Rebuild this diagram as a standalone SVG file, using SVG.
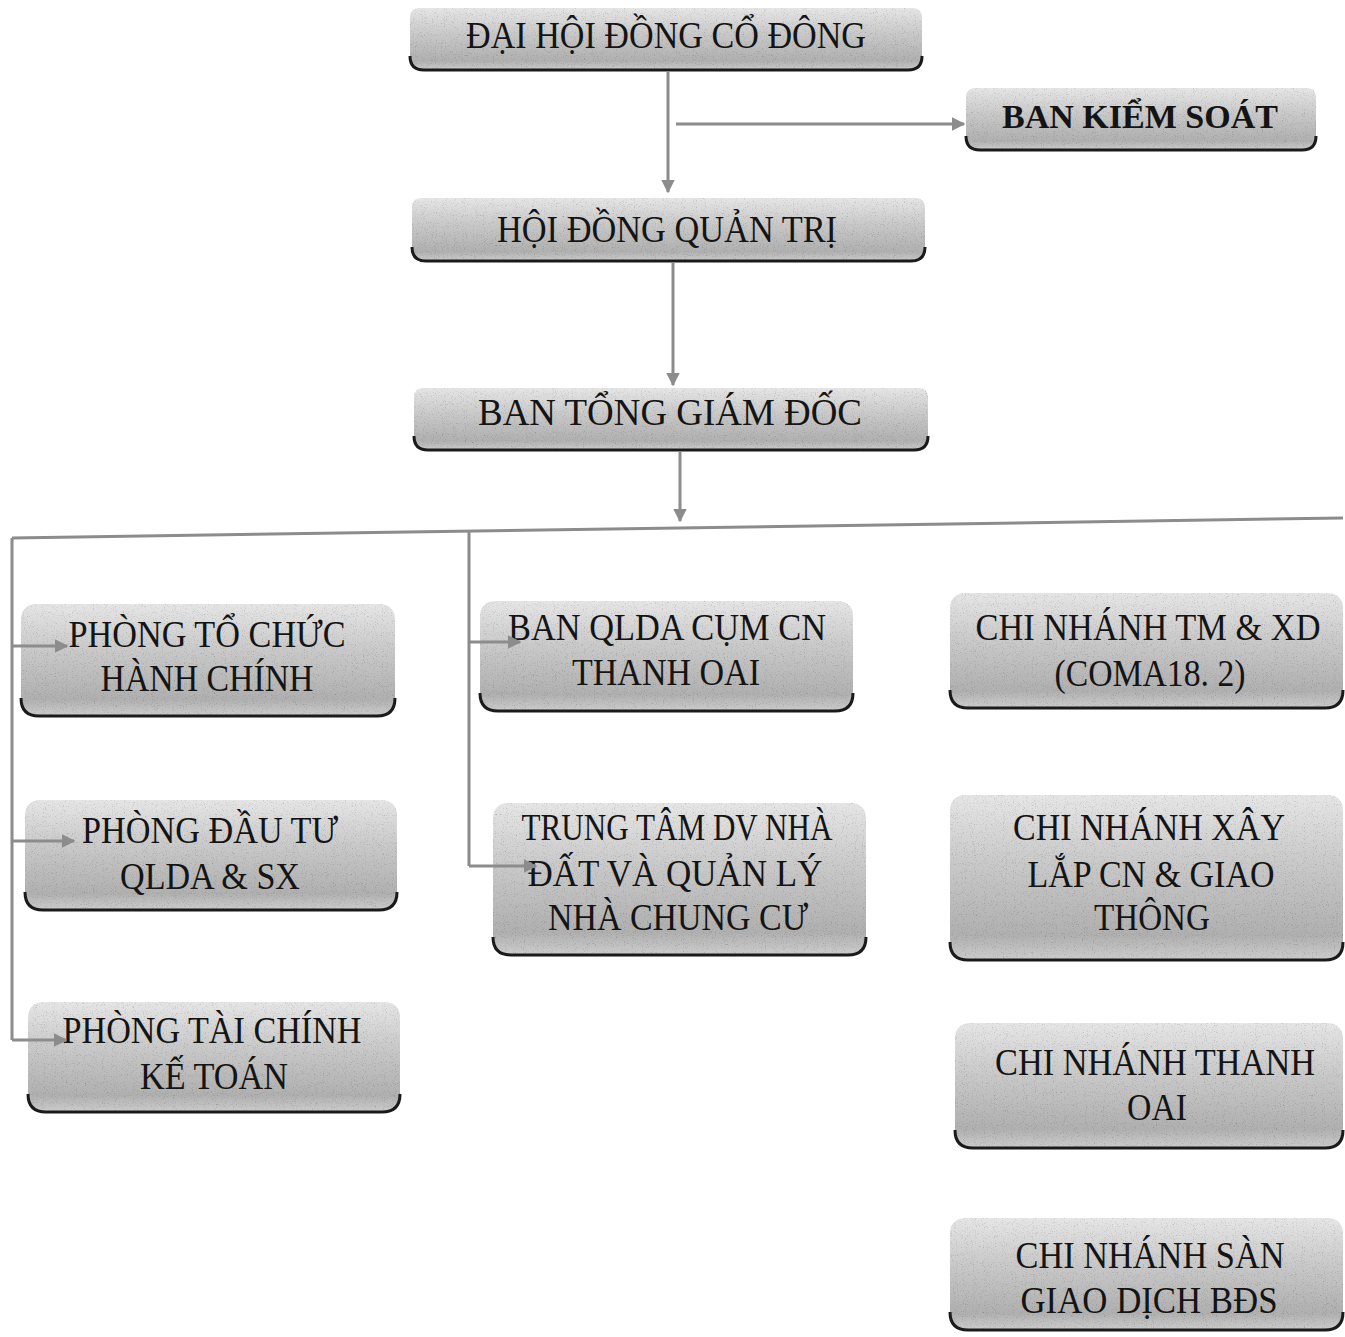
<svg xmlns="http://www.w3.org/2000/svg" width="1345" height="1337" viewBox="0 0 1345 1337">
<style>
.bg{fill:url(#g);filter:url(#grain)}
.sh{fill:none;stroke:#1a1a1a;stroke-width:3}
text{font-family:'Liberation Serif','DejaVu Serif',serif;font-size:37px;fill:#141414;text-anchor:middle}
.b{font-weight:bold;font-size:34px}
.c{fill:none;stroke:#8c8c8c;stroke-width:3}
</style>
<defs>
<linearGradient id="g" x1="0" y1="0" x2="0" y2="1">
<stop offset="0" stop-color="#e6e6e6"/>
<stop offset="0.4" stop-color="#cacaca"/>
<stop offset="0.85" stop-color="#b0b0b0"/>
<stop offset="1" stop-color="#cdcdcd"/>
</linearGradient>
<filter id="grain" x="0" y="0" width="100%" height="100%">
<feTurbulence type="fractalNoise" baseFrequency="0.9" numOctaves="2" seed="7" result="n"/>
<feColorMatrix in="n" type="saturate" values="0" result="gn"/>
<feComponentTransfer in="gn" result="gn2">
<feFuncR type="linear" slope="1.4" intercept="0.35"/>
<feFuncG type="linear" slope="1.4" intercept="0.35"/>
<feFuncB type="linear" slope="1.4" intercept="0.35"/>
<feFuncA type="linear" slope="0" intercept="1"/>
</feComponentTransfer>
<feBlend in="SourceGraphic" in2="gn2" mode="multiply" result="bl"/>
<feComposite in="bl" in2="SourceGraphic" operator="in"/>
</filter>
<marker id="ah" viewBox="0 0 10 10" refX="9" refY="5" markerWidth="4.5" markerHeight="4.5" orient="auto" markerUnits="strokeWidth">
<path d="M0,0 L10,5 L0,10 z" fill="#8c8c8c"/>
</marker>
</defs>

<g id="dai-hoi-dong-co-dong">
<rect class="bg" x="410" y="8" width="512" height="62" rx="8"/>
<path class="sh" d="M410,56 Q410,70 424,70 H908 Q922,70 922,56"/>
<text x="666" y="48" textLength="400" lengthAdjust="spacingAndGlyphs" font-family="Liberation Serif, serif">ĐẠI HỘI ĐỒNG CỔ ĐÔNG</text>
</g>

<g id="ban-kiem-soat">
<rect class="bg" x="966" y="88" width="350" height="62" rx="8"/>
<path class="sh" d="M966,136 Q966,150 980,150 H1302 Q1316,150 1316,136"/>
<text class="b" x="1140" y="128" textLength="276" lengthAdjust="spacingAndGlyphs" font-family="Liberation Serif, serif">BAN KIỂM SOÁT</text>
</g>

<g id="hoi-dong-quan-tri">
<rect class="bg" x="412" y="198" width="513" height="63" rx="8"/>
<path class="sh" d="M412,247 Q412,261 426,261 H911 Q925,261 925,247"/>
<text x="667" y="242" textLength="340" lengthAdjust="spacingAndGlyphs" font-family="Liberation Serif, serif">HỘI ĐỒNG QUẢN TRỊ</text>
</g>

<g id="ban-tong-giam-doc">
<rect class="bg" x="414" y="388" width="514" height="62" rx="8"/>
<path class="sh" d="M414,436 Q414,450 428,450 H914 Q928,450 928,436"/>
<text x="670" y="425" textLength="384" lengthAdjust="spacingAndGlyphs" font-family="Liberation Serif, serif">BAN TỔNG GIÁM ĐỐC</text>
</g>

<g id="phong-to-chuc-hanh-chinh">
<rect class="bg" x="21" y="604" width="374" height="112" rx="14"/>
<path class="sh" d="M21,698 Q21,716 39,716 H377 Q395,716 395,698"/>
<text x="207" y="647" textLength="277" lengthAdjust="spacingAndGlyphs" font-family="Liberation Serif, serif">PHÒNG TỔ CHỨC</text>
<text x="207" y="691" textLength="213" lengthAdjust="spacingAndGlyphs" font-family="Liberation Serif, serif">HÀNH CHÍNH</text>
</g>

<g id="phong-dau-tu">
<rect class="bg" x="25" y="800" width="372" height="110" rx="14"/>
<path class="sh" d="M25,892 Q25,910 43,910 H379 Q397,910 397,892"/>
<text x="210" y="843" textLength="256" lengthAdjust="spacingAndGlyphs" font-family="Liberation Serif, serif">PHÒNG ĐẦU TƯ</text>
<text x="210" y="889" textLength="180" lengthAdjust="spacingAndGlyphs" font-family="Liberation Serif, serif">QLDA &amp; SX</text>
</g>

<g id="phong-tai-chinh-ke-toan">
<rect class="bg" x="28" y="1002" width="372" height="110" rx="14"/>
<path class="sh" d="M28,1094 Q28,1112 46,1112 H382 Q400,1112 400,1094"/>
<text x="212" y="1043" textLength="299" lengthAdjust="spacingAndGlyphs" font-family="Liberation Serif, serif">PHÒNG TÀI CHÍNH</text>
<text x="214" y="1089" textLength="148" lengthAdjust="spacingAndGlyphs" font-family="Liberation Serif, serif">KẾ TOÁN</text>
</g>

<g id="ban-qlda-cum-cn">
<rect class="bg" x="480" y="601" width="373" height="110" rx="14"/>
<path class="sh" d="M480,693 Q480,711 498,711 H835 Q853,711 853,693"/>
<text x="667" y="640" textLength="318" lengthAdjust="spacingAndGlyphs" font-family="Liberation Serif, serif">BAN QLDA CỤM CN</text>
<text x="666" y="685" textLength="188" lengthAdjust="spacingAndGlyphs" font-family="Liberation Serif, serif">THANH OAI</text>
</g>

<g id="trung-tam-dv">
<rect class="bg" x="493" y="803" width="373" height="152" rx="14"/>
<path class="sh" d="M493,937 Q493,955 511,955 H848 Q866,955 866,937"/>
<text x="677" y="840" textLength="311" lengthAdjust="spacingAndGlyphs" font-family="Liberation Serif, serif">TRUNG TÂM DV NHÀ</text>
<text x="675" y="886" textLength="295" lengthAdjust="spacingAndGlyphs" font-family="Liberation Serif, serif">ĐẤT VÀ QUẢN LÝ</text>
<text x="678" y="930" textLength="260" lengthAdjust="spacingAndGlyphs" font-family="Liberation Serif, serif">NHÀ CHUNG CƯ</text>
</g>

<g id="chi-nhanh-tm-xd">
<rect class="bg" x="950" y="593" width="393" height="115" rx="14"/>
<path class="sh" d="M950,690 Q950,708 968,708 H1325 Q1343,708 1343,690"/>
<text x="1148" y="640" textLength="345" lengthAdjust="spacingAndGlyphs" font-family="Liberation Serif, serif">CHI NHÁNH TM &amp; XD</text>
<text x="1150" y="686" textLength="191" lengthAdjust="spacingAndGlyphs" font-family="Liberation Serif, serif">(COMA18. 2)</text>
</g>

<g id="chi-nhanh-xay-lap">
<rect class="bg" x="950" y="795" width="393" height="165" rx="14"/>
<path class="sh" d="M950,942 Q950,960 968,960 H1325 Q1343,960 1343,942"/>
<text x="1149" y="840" textLength="272" lengthAdjust="spacingAndGlyphs" font-family="Liberation Serif, serif">CHI NHÁNH XÂY</text>
<text x="1151" y="887" textLength="247" lengthAdjust="spacingAndGlyphs" font-family="Liberation Serif, serif">LẮP CN &amp; GIAO</text>
<text x="1152" y="930" textLength="116" lengthAdjust="spacingAndGlyphs" font-family="Liberation Serif, serif">THÔNG</text>
</g>

<g id="chi-nhanh-thanh-oai">
<rect class="bg" x="955" y="1023" width="388" height="125" rx="14"/>
<path class="sh" d="M955,1130 Q955,1148 973,1148 H1325 Q1343,1148 1343,1130"/>
<text x="1155" y="1075" textLength="320" lengthAdjust="spacingAndGlyphs" font-family="Liberation Serif, serif">CHI NHÁNH THANH</text>
<text x="1157" y="1120" textLength="60" lengthAdjust="spacingAndGlyphs" font-family="Liberation Serif, serif">OAI</text>
</g>

<g id="chi-nhanh-san-giao-dich">
<rect class="bg" x="950" y="1218" width="393" height="112" rx="14"/>
<path class="sh" d="M950,1312 Q950,1330 968,1330 H1325 Q1343,1330 1343,1312"/>
<text x="1150" y="1268" textLength="269" lengthAdjust="spacingAndGlyphs" font-family="Liberation Serif, serif">CHI NHÁNH SÀN</text>
<text x="1149" y="1313" textLength="257" lengthAdjust="spacingAndGlyphs" font-family="Liberation Serif, serif">GIAO DỊCH BĐS</text>
</g>

<g id="connectors">
<path class="c" d="M668,72 V192" marker-end="url(#ah)"/>
<path class="c" d="M676,124 H964" marker-end="url(#ah)"/>
<path class="c" d="M673,263 V385" marker-end="url(#ah)"/>
<path class="c" d="M680,452 V521" marker-end="url(#ah)"/>
<path class="c" d="M12,538 L1343,518"/>
<path class="c" d="M12,538 V1040"/>
<path class="c" d="M12,646 H67" marker-end="url(#ah)"/>
<path class="c" d="M12,841 H74" marker-end="url(#ah)"/>
<path class="c" d="M12,1040 H66" marker-end="url(#ah)"/>
<path class="c" d="M469,530 V866"/>
<path class="c" d="M469,642 H520" marker-end="url(#ah)"/>
<path class="c" d="M469,866 H536" marker-end="url(#ah)"/>
</g>
</svg>
